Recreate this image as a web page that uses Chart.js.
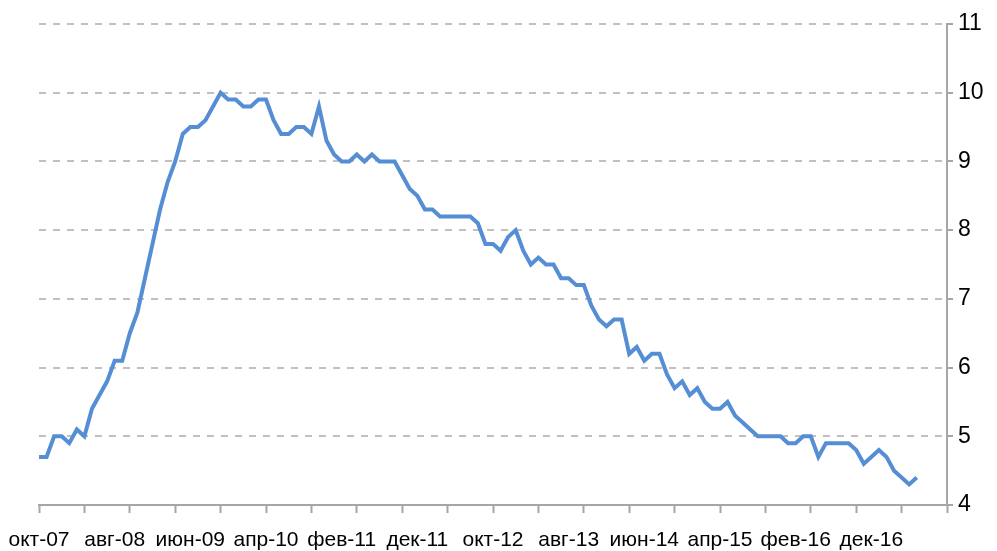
<!DOCTYPE html>
<html>
<head>
<meta charset="utf-8">
<script src="https://cdn.jsdelivr.net/npm/chart.js@4"></script>
<style>
  html, body { margin: 0; padding: 0; background: #fff; }
</style>
</head>
<body>
<canvas id="chart" width="997" height="551"></canvas>
<script>
const monthNames = ['янв', 'фев', 'мар', 'апр', 'май', 'июн', 'июл', 'авг', 'сен', 'окт', 'ноя', 'дек'];

// monthly categories, окт-07 .. окт-17
const months = [];
for (let i = 0; i <= 120; i++) {
    const m = (9 + i) % 12;
    const yy = 7 + Math.floor((9 + i) / 12);
    months.push(monthNames[m] + '-' + String(yy).padStart(2, '0'));
}

// values, окт-07 .. июн-17
const rate = [
    4.7, 4.7, 5.0,
    5.0, 4.9, 5.1, 5.0, 5.4, 5.6, 5.8, 6.1, 6.1, 6.5, 6.8, 7.3,
    7.8, 8.3, 8.7, 9.0, 9.4, 9.5, 9.5, 9.6, 9.8, 10.0, 9.9, 9.9,
    9.8, 9.8, 9.9, 9.9, 9.6, 9.4, 9.4, 9.5, 9.5, 9.4, 9.8, 9.3,
    9.1, 9.0, 9.0, 9.1, 9.0, 9.1, 9.0, 9.0, 9.0, 8.8, 8.6, 8.5,
    8.3, 8.3, 8.2, 8.2, 8.2, 8.2, 8.2, 8.1, 7.8, 7.8, 7.7, 7.9,
    8.0, 7.7, 7.5, 7.6, 7.5, 7.5, 7.3, 7.3, 7.2, 7.2, 6.9, 6.7,
    6.6, 6.7, 6.7, 6.2, 6.3, 6.1, 6.2, 6.2, 5.9, 5.7, 5.8, 5.6,
    5.7, 5.5, 5.4, 5.4, 5.5, 5.3, 5.2, 5.1, 5.0, 5.0, 5.0, 5.0,
    4.9, 4.9, 5.0, 5.0, 4.7, 4.9, 4.9, 4.9, 4.9, 4.8, 4.6, 4.7,
    4.8, 4.7, 4.5, 4.4, 4.3, 4.4
];

const yMin = 4;
const yMax = 11;

const axisGray = '#a6a6a6';
const fontFamily = '"Liberation Sans", Arial, sans-serif';

const ctx = document.getElementById('chart').getContext('2d');
new Chart(ctx, {
    type: 'line',
    data: {
        labels: months,
        datasets: [{
            data: rate,
            borderColor: '#558ed5',
            borderWidth: 4,
            pointRadius: 0,
            tension: 0,
            fill: false
        }]
    },
    options: {
        responsive: false,
        animation: false,
        devicePixelRatio: 1,
        layout: { padding: { left: 39, top: 24, right: 0, bottom: 0 } },
        plugins: {
            legend: { display: false },
            tooltip: { enabled: false }
        },
        scales: {
            x: {
                grid: {
                    drawOnChartArea: false,
                    tickLength: 8,
                    tickWidth: 2,
                    tickColor: c => (c.index % 6 === 0 ? axisGray : 'rgba(0,0,0,0)')
                },
                border: { color: axisGray, width: 2 },
                ticks: {
                    autoSkip: false,
                    maxRotation: 0,
                    minRotation: 0,
                    padding: 4,
                    color: '#000',
                    font: { family: fontFamily, size: 21, lineHeight: 2.2 },
                    callback: function (value, index) {
                        return (index % 10 === 0 && index < 120) ? this.getLabelForValue(value) : '';
                    }
                },
                afterFit: s => { s.height = 46; }
            },
            y: {
                position: 'right',
                min: yMin,
                max: yMax,
                ticks: {
                    stepSize: 1,
                    padding: 5,
                    color: '#000',
                    font: { family: fontFamily, size: 23 }
                },
                grid: {
                    color: c => (c.tick && c.tick.value === yMin ? 'rgba(0,0,0,0)' : '#c0c0c0'),
                    lineWidth: 2,
                    tickLength: 6,
                    tickWidth: 2,
                    tickColor: axisGray
                },
                border: { color: axisGray, width: 2, dash: [7, 7] },
                afterFit: s => { s.width = 50; }
            }
        }
    }
});
</script>
</body>
</html>
